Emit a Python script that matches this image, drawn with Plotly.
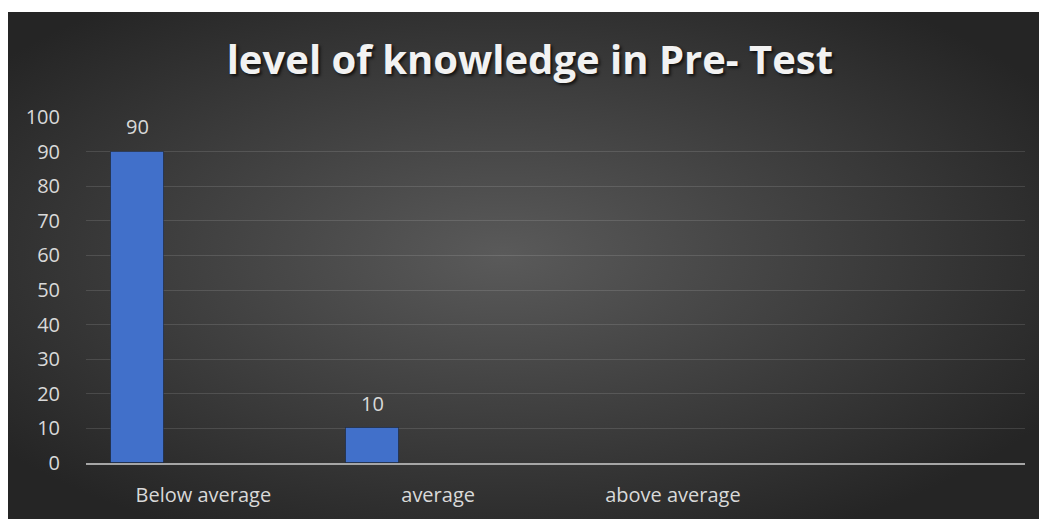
import base64
import plotly.graph_objects as go

# ---- data ----
categories = ["Below average", "average", "above average", " "]
values = [90, 10, None, None]
y_ticks = [0, 10, 20, 30, 40, 50, 60, 70, 80, 90, 100]
title_text = "level of knowledge in Pre- Test"

# ---- layout constants ----
W, H = 1039, 519
ML, MR, MT, MB = 86, 14, 117, 56
BAR_OFFSET = -0.394
BAR_WIDTH = 0.226
FONT = "Open Sans"
TXT = "#d9d9d9"

plot_w = W - ML - MR
plot_h = H - MT - MB
cat_px = plot_w / len(categories)

svg = """<svg xmlns='http://www.w3.org/2000/svg' width='1031' height='507' viewBox='0 0 1031 507' preserveAspectRatio='none'>
<defs><radialGradient id='g' cx='48%' cy='48%' r='62%'>
<stop offset='0%' stop-color='#5a5a5a'/>
<stop offset='100%' stop-color='#252525'/>
</radialGradient></defs>
<rect x='0' y='0' width='1031' height='507' fill='url(#g)'/></svg>"""
bg_uri = "data:image/svg+xml;base64," + base64.b64encode(svg.encode()).decode()

fig = go.Figure()
fig.add_trace(go.Bar(
    x=categories,
    y=values,
    width=BAR_WIDTH,
    offset=BAR_OFFSET,
    marker=dict(color="#4170CA", line=dict(color="rgba(0,0,0,0.35)", width=1)),
    hoverinfo="x+y",
))

annotations = []
for c, v in zip(categories, values):
    if v is None:
        continue
    annotations.append(dict(
        x=c, y=v, xref="x", yref="y", text=str(v), showarrow=False,
        xshift=(BAR_OFFSET + BAR_WIDTH / 2) * cat_px, yshift=25,
        font=dict(family=FONT, size=20, color=TXT),
    ))

fig.update_layout(
    width=W, height=H,
    margin=dict(l=ML, r=MR, t=MT, b=MB, pad=0, autoexpand=False),
    paper_bgcolor="white",
    plot_bgcolor="rgba(0,0,0,0)",
    showlegend=False,
    title=dict(
        text=title_text, x=0.51, xanchor="center", y=0.885, yanchor="middle",
        font=dict(family=FONT, size=40, color="#f2f2f2", weight="bold",
                  shadow="2px 2px 3px rgba(0,0,0,0.7)"),
        automargin=False,
    ),
    images=[dict(
        source=bg_uri, xref="paper", yref="paper",
        x=(8 - ML) / plot_w, y=(H - MB - 12) / plot_h,
        sizex=(W - 8) / plot_w, sizey=(H - 12) / plot_h,
        xanchor="left", yanchor="top", sizing="stretch", layer="below",
    )],
    xaxis=dict(
        type="category", categoryorder="array", categoryarray=categories,
        range=[-0.5, len(categories) - 0.5], automargin=False,
        showline=True, linecolor="#a6a6a6", linewidth=2,
        showgrid=False, zeroline=False,
        ticks="outside", ticklen=13, tickcolor="rgba(0,0,0,0)",
        tickfont=dict(family=FONT, size=20, color=TXT),
    ),
    yaxis=dict(
        range=[0, 100], tickvals=y_ticks, automargin=False,
        showgrid=True, gridcolor="rgba(255,255,255,0.12)", gridwidth=1,
        zeroline=False, showline=False,
        ticks="outside", ticklen=21, tickcolor="rgba(0,0,0,0)",
        tickfont=dict(family=FONT, size=20, color=TXT),
    ),
    annotations=annotations,
    bargap=0,
)

fig.write_html("out.html")
